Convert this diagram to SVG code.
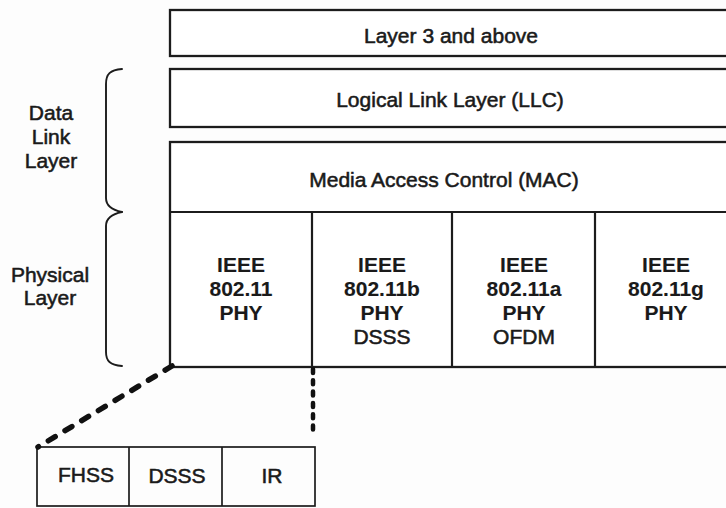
<svg xmlns="http://www.w3.org/2000/svg" width="726" height="508" viewBox="0 0 726 508">
  <style>
    .box { fill: #ffffff; stroke: #1c1c1c; stroke-width: 2.3; }
    .rule { fill: none; stroke: #1c1c1c; stroke-width: 2.2; }
    .thin { fill: none; stroke: #1c1c1c; stroke-width: 1.7; }
    .brace { fill: none; stroke: #1c1c1c; stroke-width: 1.9; stroke-linecap: round; }
    .lbl { font-family: "Liberation Sans", Arial, Helvetica, sans-serif; font-size: 21px; fill: #1a1a1a; stroke: #1a1a1a; stroke-width: 0.55; text-anchor: middle; }
    .bold { font-weight: bold; stroke-width: 0.1; }
    .dash { fill: none; stroke: #111111; stroke-width: 5.5; stroke-linecap: round; stroke-dasharray: 8 11.5; }
    .dot { fill: none; stroke: #111111; stroke-width: 4.5; stroke-linecap: round; stroke-dasharray: 4 7.3; }
  </style>

  <rect width="726" height="508" fill="#fdfdfd"/>

  <!-- upper protocol layers -->
  <g id="layer3">
    <rect class="box" x="170" y="10" width="570" height="46"/>
    <text class="lbl" x="451" y="43">Layer 3 and above</text>
  </g>

  <g id="llc">
    <rect class="box" x="170" y="69" width="570" height="58"/>
    <text class="lbl" x="450" y="107">Logical Link Layer (LLC)</text>
  </g>

  <!-- MAC with the PHY variants underneath -->
  <g id="mac">
    <rect class="box" x="170" y="142" width="570" height="225"/>
    <line class="rule" x1="170" y1="212" x2="740" y2="212"/>
    <text class="lbl" x="444" y="187">Media Access Control (MAC)</text>
  </g>

  <g id="phy-80211">
    <text class="lbl bold" x="241" y="272">IEEE</text>
    <text class="lbl bold" x="241" y="296">802.11</text>
    <text class="lbl bold" x="241" y="320">PHY</text>
  </g>

  <g id="phy-80211b">
    <line class="rule" x1="312" y1="212" x2="312" y2="367"/>
    <text class="lbl bold" x="382" y="272">IEEE</text>
    <text class="lbl bold" x="382" y="296">802.11b</text>
    <text class="lbl bold" x="382" y="320">PHY</text>
    <text class="lbl" x="382" y="344">DSSS</text>
  </g>

  <g id="phy-80211a">
    <line class="rule" x1="452" y1="212" x2="452" y2="367"/>
    <text class="lbl bold" x="524" y="272">IEEE</text>
    <text class="lbl bold" x="524" y="296">802.11a</text>
    <text class="lbl bold" x="524" y="320">PHY</text>
    <text class="lbl" x="524" y="344">OFDM</text>
  </g>

  <g id="phy-80211g">
    <line class="rule" x1="595" y1="212" x2="595" y2="367"/>
    <text class="lbl bold" x="666" y="272">IEEE</text>
    <text class="lbl bold" x="666" y="296">802.11g</text>
    <text class="lbl bold" x="666" y="320">PHY</text>
  </g>

  <!-- side labels with braces -->
  <g id="data-link-layer">
    <path class="brace" d="M122,69 C110,70 106,74 106,84 L106,198 C106,206 112,210 122,212"/>
    <text class="lbl" x="51" y="120">Data</text>
    <text class="lbl" x="51" y="144">Link</text>
    <text class="lbl" x="51" y="168">Layer</text>
  </g>

  <g id="physical-layer">
    <path class="brace" d="M122,212 C112,214 106,218 106,226 L106,352 C106,361 110,365 122,366"/>
    <text class="lbl" x="50" y="282">Physical</text>
    <text class="lbl" x="50" y="305">Layer</text>
  </g>

  <!-- original 802.11 PHY options -->
  <g id="phy-options">
    <rect class="thin" x="37" y="447" width="278" height="59"/>
    <line class="thin" x1="129" y1="447" x2="129" y2="506"/>
    <line class="thin" x1="222" y1="447" x2="222" y2="506"/>
    <text class="lbl" x="86" y="482">FHSS</text>
    <text class="lbl" x="177" y="483">DSSS</text>
    <text class="lbl" x="272" y="483">IR</text>
  </g>

  <!-- expansion lines from the 802.11 PHY column -->
  <g id="connectors">
    <line class="dash" x1="172" y1="366" x2="38" y2="447"/>
    <line class="dot" x1="313" y1="369" x2="313" y2="432"/>
  </g>
</svg>
